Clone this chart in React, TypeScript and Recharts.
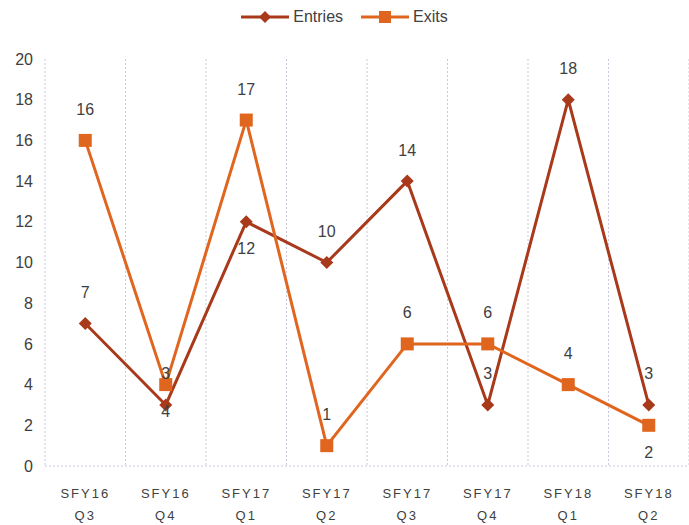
import React from "react";
import { CartesianGrid, LabelList, Legend, Line, LineChart, XAxis, YAxis } from "recharts";

const categories = ["SFY16 Q3", "SFY16 Q4", "SFY17 Q1", "SFY17 Q2", "SFY17 Q3", "SFY17 Q4", "SFY18 Q1", "SFY18 Q2"];
const entries = [7, 3, 12, 10, 14, 3, 18, 3];
const exits = [16, 4, 17, 1, 6, 6, 4, 2];
const yTicks = [0, 2, 4, 6, 8, 10, 12, 14, 16, 18, 20];

// where each data label sits relative to its point
const entryLabelSide = ["top", "top", "bottom", "top", "top", "top", "top", "top"];
const exitLabelSide = ["top", "bottom", "top", "top", "top", "top", "top", "bottom"];

const ENTRY_COLOR = "#a83a1b";
const EXIT_COLOR = "#e0661f";
const TEXT_COLOR = "#404040";
const FONT = "'Liberation Sans', Arial, sans-serif";

const data = categories.map((c, i) => ({ name: c, Entries: entries[i], Exits: exits[i] }));

function Diamond(props: any) {
  const { cx, cy } = props;
  if (cx == null || cy == null) return null;
  const r = 6.5;
  return <path d={`M${cx},${cy - r}L${cx + r},${cy}L${cx},${cy + r}L${cx - r},${cy}Z`} fill={ENTRY_COLOR} />;
}

function Square(props: any) {
  const { cx, cy } = props;
  if (cx == null || cy == null) return null;
  const s = 13;
  return <rect x={cx - s / 2} y={cy - s / 2} width={s} height={s} fill={EXIT_COLOR} />;
}

function makeLabel(sides: string[]) {
  return function PointLabel(props: any) {
    const { x, y, value, index } = props;
    const below = sides[index] === "bottom";
    return (
      <text
        x={x}
        y={below ? y + 27 : y - 31}
        textAnchor="middle"
        dominantBaseline="central"
        fill={TEXT_COLOR}
        fontSize={16}
        fontFamily={FONT}
      >
        {value}
      </text>
    );
  };
}

function CategoryTick(props: any) {
  const { x, y, payload } = props;
  const [top, bottom] = String(payload.value).split(" ");
  return (
    <g>
      <text x={x} y={y + 24} textAnchor="middle" fill={TEXT_COLOR} fontSize={13} fontFamily={FONT} letterSpacing={2}>
        {top}
      </text>
      <text x={x} y={y + 46} textAnchor="middle" fill={TEXT_COLOR} fontSize={13} fontFamily={FONT} letterSpacing={2}>
        {bottom}
      </text>
    </g>
  );
}

function LegendContent() {
  const items = [
    { label: "Entries", color: ENTRY_COLOR, shape: "diamond" },
    { label: "Exits", color: EXIT_COLOR, shape: "square" }
  ];
  return (
    <div style={{ display: "flex", justifyContent: "center", gap: 18, fontFamily: FONT, fontSize: 16, color: TEXT_COLOR }}>
      {items.map((it) => (
        <div key={it.label} style={{ display: "flex", alignItems: "center", gap: 4 }}>
          <svg width={48} height={16}>
            <line x1={0} y1={8} x2={48} y2={8} stroke={it.color} strokeWidth={3} />
            {it.shape === "diamond" ? (
              <path d="M24,2L30,8L24,14L18,8Z" fill={it.color} />
            ) : (
              <rect x={18} y={2} width={12} height={12} fill={it.color} />
            )}
          </svg>
          <span>{it.label}</span>
        </div>
      ))}
    </div>
  );
}

export default function App() {
  const n = categories.length;
  return (
    <div style={{ position: "absolute", left: 0, top: 0, background: "#fff" }}>
      <LineChart width={689} height={525} data={data} margin={{ top: 41, right: 0, left: 0, bottom: 0 }}>
        <CartesianGrid
          horizontal={false}
          stroke="#c8c8dc"
          strokeDasharray="2 2"
          verticalCoordinatesGenerator={({ offset }: any) =>
            Array.from({ length: n + 1 }, (_, i) => offset.left + (i * offset.width) / n)
          }
        />
        <XAxis
          dataKey="name"
          scale="band"
          height={59}
          axisLine={{ stroke: "#c8c8dc", strokeDasharray: "2 2" }}
          tickLine={false}
          tick={<CategoryTick />}
          interval={0}
        />
        <YAxis
          width={45}
          domain={[0, 20]}
          ticks={yTicks}
          axisLine={false}
          tickLine={false}
          tickSize={0}
          tickMargin={12}
          tick={{ fill: TEXT_COLOR, fontSize: 16, fontFamily: FONT }}
        />
        <Legend verticalAlign="top" content={<LegendContent />} wrapperStyle={{ top: 8, left: 0, width: 689 }} />
        <Line
          dataKey="Entries"
          stroke={ENTRY_COLOR}
          strokeWidth={3}
          dot={<Diamond />}
          activeDot={false}
          isAnimationActive={false}
        >
          <LabelList dataKey="Entries" content={makeLabel(entryLabelSide)} />
        </Line>
        <Line
          dataKey="Exits"
          stroke={EXIT_COLOR}
          strokeWidth={3}
          dot={<Square />}
          activeDot={false}
          isAnimationActive={false}
        >
          <LabelList dataKey="Exits" content={makeLabel(exitLabelSide)} />
        </Line>
      </LineChart>
    </div>
  );
}
